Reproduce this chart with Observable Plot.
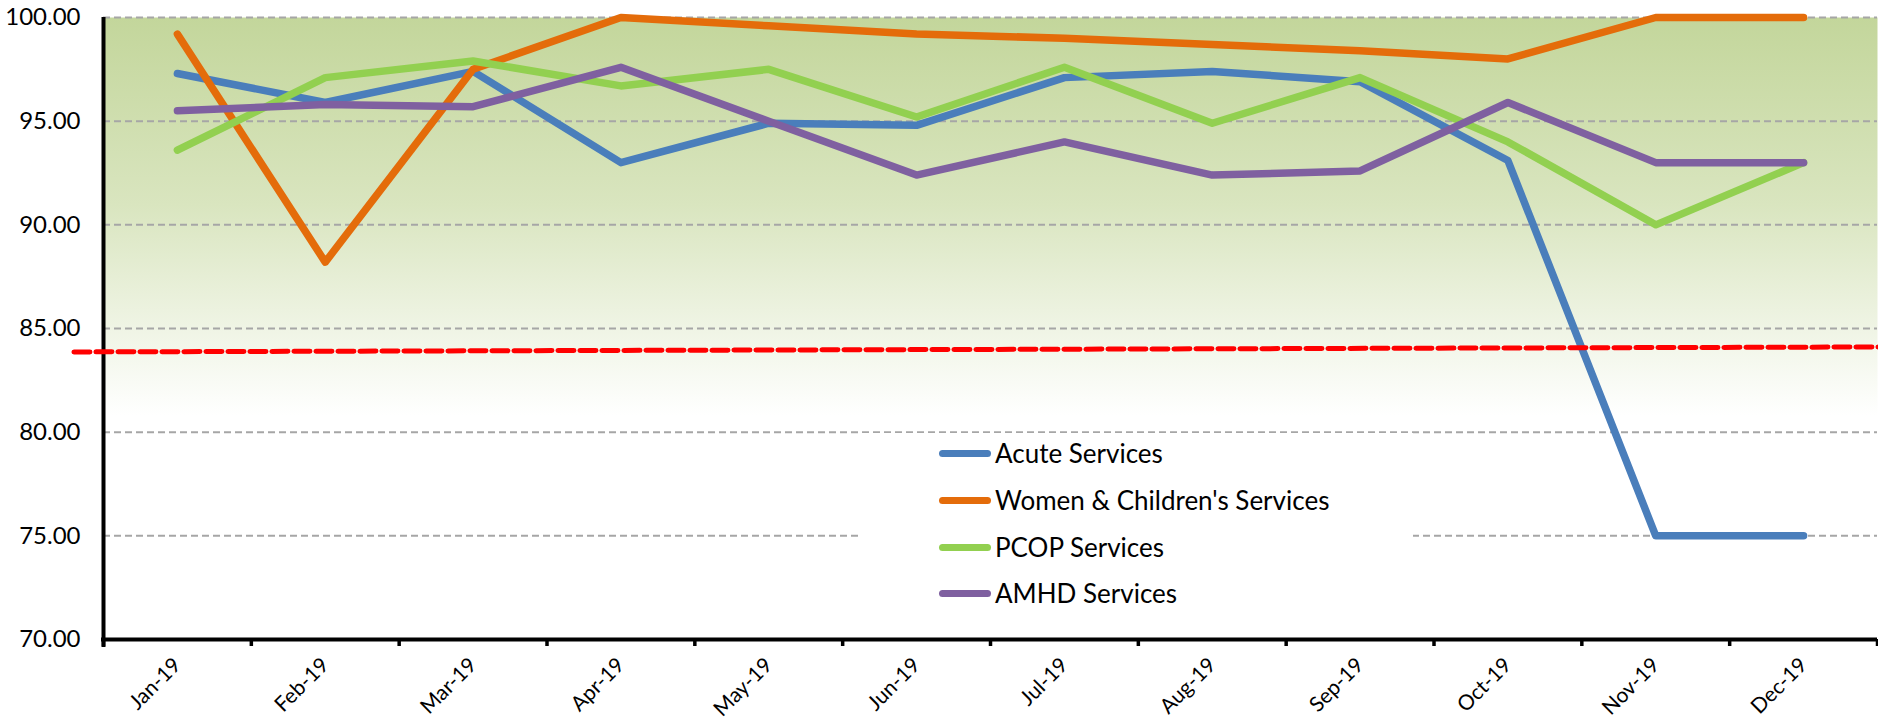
<!DOCTYPE html>
<html>
<head>
<meta charset="utf-8">
<script src="https://cdn.jsdelivr.net/npm/d3@7"></script>
<script src="https://cdn.jsdelivr.net/npm/@observablehq/plot@0.6"></script>
<style>
  html, body { margin: 0; padding: 0; background: #fff; }
  #wrap { position: relative; width: 1878px; height: 721px; font-family: Lato, "Open Sans", sans-serif; }
  #legend { position: absolute; left: 862px; top: 433px; width: 551px; height: 188px; background: #fff; }
  .item { position: absolute; left: 77px; height: 30px; display: flex; align-items: center; font-size: 26px; color: #000; white-space: nowrap; }
  .sw { width: 52px; height: 7px; border-radius: 4px; margin-right: 4px; }
</style>
</head>
<body>
<div id="wrap"></div>
<script>
// ---- data ----
const months = ["Jan-19","Feb-19","Mar-19","Apr-19","May-19","Jun-19","Jul-19","Aug-19","Sep-19","Oct-19","Nov-19","Dec-19"];
const seriesNames = ["Acute Services","Women & Children's Services","PCOP Services","AMHD Services"];
const seriesColors = ["#4a7ebb","#e46c0a","#92d050","#7f60a0"];
const acute  = [97.3, 95.9, 97.4, 93.0, 94.9, 94.8, 97.1, 97.4, 96.9, 93.1, 75.0, 75.0];
const women  = [99.2, 88.2, 97.5, 100.0, 99.6, 99.2, 99.0, 98.7, 98.4, 98.0, 100.0, 100.0];
const pcop   = [93.6, 97.1, 97.9, 96.7, 97.5, 95.2, 97.6, 94.9, 97.1, 94.0, 90.0, 93.0];
const amhd   = [95.5, 95.8, 95.7, 97.6, 95.0, 92.4, 94.0, 92.4, 92.6, 95.9, 93.0, 93.0];
const yTicks = [70, 75, 80, 85, 90, 95, 100];
const targetX = [-0.7, 11.51];
const targetY = [83.87, 84.11];

const allSeries = [acute, women, pcop, amhd];
const rows = [];
allSeries.forEach((vals, s) => vals.forEach((v, i) => rows.push({series: seriesNames[s], i, v})));
const monthIdx = months.map((_, i) => i);
const boundaries = d3.range(0, months.length + 1).map(k => k - 0.5);
const target = targetX.map((x, k) => ({x, y: targetY[k]}));

const chart = Plot.plot({
  width: 1878,
  height: 721,
  marginTop: 17,
  marginBottom: 82,
  marginLeft: 103,
  marginRight: 1,
  style: {fontFamily: "Lato, 'Open Sans', sans-serif", background: "#fff", overflow: "visible"},
  x: {type: "linear", domain: [-0.5, 11.5], axis: null},
  y: {domain: [70, 100], axis: null},
  color: {domain: seriesNames, range: seriesColors},
  marks: [
    Plot.frame({fill: "url(#bgGrad)", stroke: null}),
    Plot.gridY(yTicks, {stroke: "#a6a6a6", strokeOpacity: 1, strokeWidth: 2, strokeDasharray: "7,4"}),
    Plot.axisY(yTicks, {tickSize: 0, tickPadding: 23, tickFormat: d => d.toFixed(2), fontSize: 24, fill: "#000"}),
    Plot.axisX(boundaries, {tickSize: 7, text: null, strokeWidth: 3.5, stroke: "#000"}),
    Plot.axisX(monthIdx, {tickSize: 0, tickPadding: 22, tickRotate: -45, tickFormat: i => months[i], fontSize: 21, fill: "#000"}),
    Plot.ruleY([70], {stroke: "#000", strokeWidth: 4, insetLeft: -2}),
    Plot.ruleX([-0.5], {stroke: "#000", strokeWidth: 4, insetBottom: -8}),
    Plot.line(rows, {x: "i", y: "v", z: "series", stroke: "series", strokeWidth: 7.5, strokeLinecap: "round", strokeLinejoin: "round"}),
    Plot.line(target, {x: "x", y: "y", stroke: "#ff0000", strokeWidth: 5, strokeDasharray: "16,6"})
  ]
});

const ns = "http://www.w3.org/2000/svg";
const defs = document.createElementNS(ns, "defs");
defs.innerHTML = '<linearGradient id="bgGrad" x1="0" y1="0" x2="0" y2="1">' +
  '<stop offset="0" stop-color="#c3d69b"/>' +
  '<stop offset="0.3" stop-color="#d9e5bf"/>' +
  '<stop offset="0.64" stop-color="#ffffff"/>' +
  '<stop offset="1" stop-color="#ffffff"/></linearGradient>';
chart.insertBefore(defs, chart.firstChild);

const wrap = document.getElementById("wrap");
wrap.appendChild(chart);

const legend = document.createElement("div");
legend.id = "legend";
const rowTops = [5, 52, 99, 145];
seriesNames.forEach((name, s) => {
  const it = document.createElement("div");
  it.className = "item";
  it.style.top = rowTops[s] + "px";
  const sw = document.createElement("span");
  sw.className = "sw";
  sw.style.background = seriesColors[s];
  const tx = document.createElement("span");
  tx.textContent = name;
  it.appendChild(sw);
  it.appendChild(tx);
  legend.appendChild(it);
});
wrap.appendChild(legend);
</script>
</body>
</html>
